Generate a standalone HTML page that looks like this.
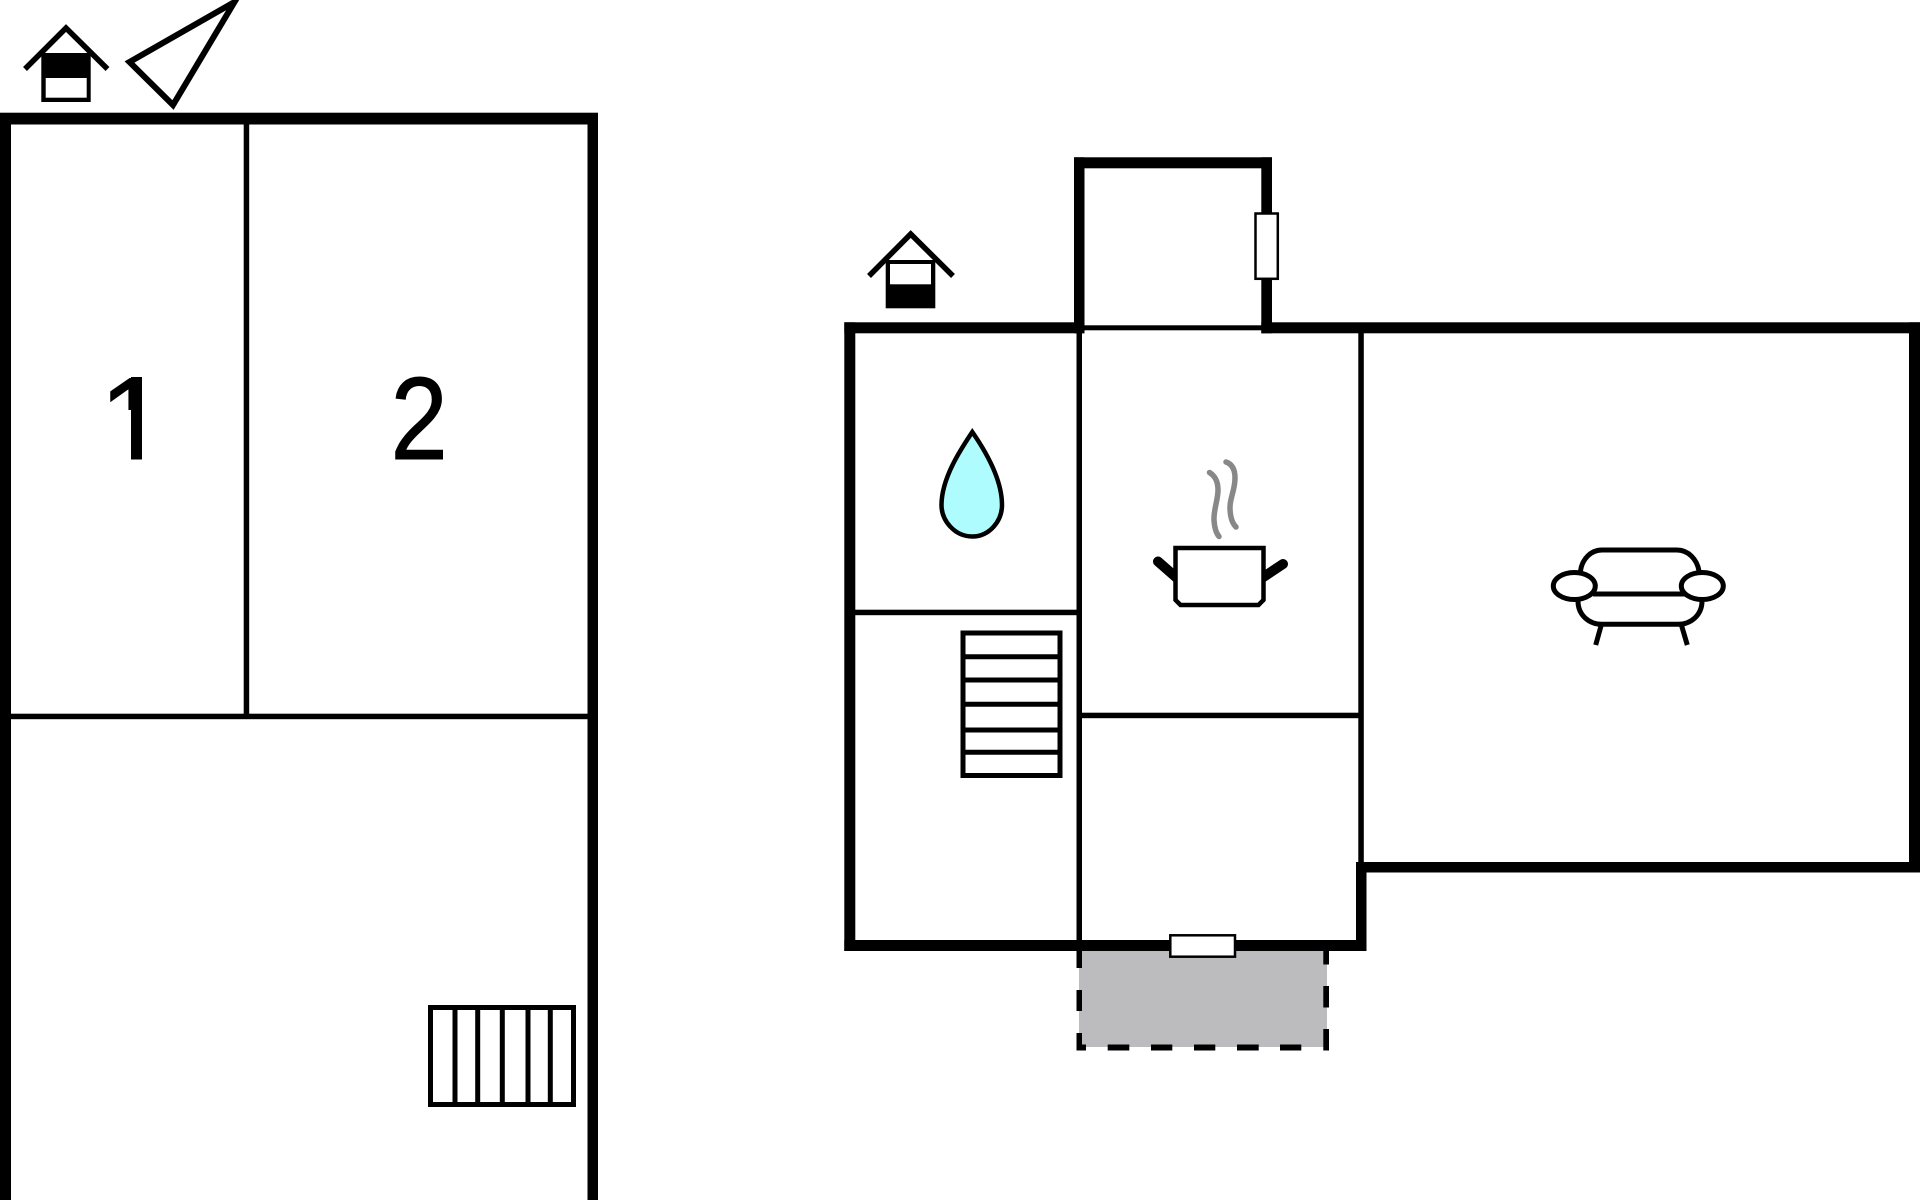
<!DOCTYPE html>
<html><head><meta charset="utf-8"><style>
html,body{margin:0;padding:0;background:#fff;width:1920px;height:1200px;overflow:hidden}
svg{display:block}
text{font-family:"Liberation Sans",sans-serif;font-size:117px;fill:#000;stroke:#000;stroke-width:1}
</style></head><body>
<svg width="1920" height="1200" viewBox="0 0 1920 1200" xmlns="http://www.w3.org/2000/svg">
<rect width="1920" height="1200" fill="#fff"/>
<!-- left plan -->
<rect x="0" y="112.700" width="598" height="11.800"/>
<rect x="0" y="113" width="11" height="1087"/>
<rect x="587.500" y="113" width="10.500" height="1087"/>
<rect x="243.700" y="124" width="5.500" height="592"/>
<rect x="10" y="713.700" width="578" height="5.500"/>
<text x="99.500" y="459">1</text>
<rect x="95" y="410" width="36" height="53" fill="#fff"/>
<rect x="142" y="370" width="26" height="93" fill="#fff"/>
<rect x="131" y="377" width="11" height="82"/>
<text transform="translate(390.500 459) scale(0.88 1)" x="0" y="0">2</text>
<!-- left house -->
<path d="M25 69 66 28 107.500 69" fill="none" stroke="#000" stroke-width="5.500"/>
<rect x="41.300" y="53" width="49.400" height="49"/>
<rect x="45.700" y="78" width="41" height="19.700" fill="#fff"/>
<!-- north triangle -->
<polygon points="129.500,62 173,105 234.500,2" fill="none" stroke="#000" stroke-width="6"/>
<!-- stairs 1 -->
<g fill="none" stroke="#000" stroke-width="5">
<rect x="430.500" y="1007.500" width="143" height="97"/>
<path d="M455 1007V1105M477.700 1007V1105M502.300 1007V1105M528 1007V1105M550.300 1007V1105"/>
</g>
<!-- right plan: gray terrace -->
<rect x="1079" y="951" width="248" height="96" fill="#bcbcbe"/>
<g>
<rect x="1076.500" y="951" width="5.500" height="17"/><rect x="1076.500" y="990" width="5.500" height="21"/><rect x="1076.500" y="1033" width="5.500" height="17.500"/>
<rect x="1323.300" y="951" width="5.700" height="13.500"/><rect x="1323.300" y="986" width="5.700" height="21.500"/><rect x="1323.300" y="1029" width="5.700" height="21.500"/>
<rect x="1076.500" y="1044.500" width="9.500" height="6"/>
<rect x="1107.700" y="1044.500" width="21.600" height="6"/><rect x="1151" y="1044.500" width="21.300" height="6"/><rect x="1194" y="1044.500" width="21.300" height="6"/><rect x="1237" y="1044.500" width="21.700" height="6"/><rect x="1280" y="1044.500" width="21.300" height="6"/>
</g>
<!-- thick walls -->
<rect x="844.300" y="322.300" width="240" height="11"/>
<rect x="844.300" y="322.300" width="11" height="628.700"/>
<rect x="844.300" y="940" width="521.700" height="11"/>
<rect x="1356" y="862" width="10.500" height="89"/>
<rect x="1356" y="862" width="564" height="10.500"/>
<rect x="1909" y="322.300" width="11" height="550"/>
<rect x="1261.300" y="322.300" width="658.700" height="11"/>
<rect x="1074" y="157.300" width="198" height="11"/>
<rect x="1074" y="157.300" width="10.500" height="176"/>
<rect x="1261.300" y="157.300" width="10.700" height="176"/>
<!-- thin walls -->
<rect x="1084" y="325.300" width="178" height="5"/>
<rect x="1076.500" y="333" width="5.500" height="618"/>
<rect x="855" y="609.700" width="223" height="5.500"/>
<rect x="1358.300" y="333" width="5.500" height="530"/>
<rect x="1079" y="712.700" width="281" height="5.500"/>
<!-- windows -->
<rect x="1255.500" y="213.500" width="22.300" height="65.300" fill="#fff" stroke="#000" stroke-width="2.500"/>
<rect x="1170.300" y="935.300" width="64.700" height="21.400" fill="#fff" stroke="#000" stroke-width="2.500"/>
<!-- right house -->
<path d="M869 276 910.700 234 953 276" fill="none" stroke="#000" stroke-width="5.500"/>
<rect x="885.700" y="260" width="49.600" height="48.300"/>
<rect x="890" y="264" width="41" height="20.300" fill="#fff"/>
<!-- drop -->
<path d="M972.300 432C963 446 941.500 477 941.500 505C941.500 521 955 536.500 972.300 536.500C989.500 536.500 1002 521 1002 505C1002 477 982 446 972.300 432Z" fill="#aefcfe" stroke="#000" stroke-width="4.500" stroke-linejoin="miter"/>
<!-- pot -->
<path d="M1158 561.500 1178 579M1283 564 1262 578" fill="none" stroke="#000" stroke-width="10" stroke-linecap="round"/>
<path d="M1175.500 548H1263.500V600L1258.500 605H1180.500L1175.500 600Z" fill="#fff" stroke="#000" stroke-width="4.500"/>
<path d="M1209.500 472.500C1215 476 1218 481 1218 490C1218 500 1213.500 510 1214 520C1214.500 528 1216 533 1219 536.500M1226 462C1232 464 1235 469 1235 478C1235 490 1230 498 1230 507C1230 516 1232 523 1236 527" fill="none" stroke="#888" stroke-width="5.500" stroke-linecap="round"/>
<!-- sofa -->
<g fill="none" stroke="#000" stroke-width="5">
<path d="M1580.500 571C1582 559 1591 550 1602 550H1677C1688 550 1697 559 1699 571"/>
<path d="M1593 594H1685"/>
<path d="M1578 601C1578 615 1589 624.300 1602 624.300H1678C1691 624.300 1702 615 1702 601"/>
<path d="M1601 626 1595.700 645M1681.700 626 1687.300 645"/>
<ellipse cx="1574.300" cy="586" rx="21" ry="13.500" fill="#fff"/>
<ellipse cx="1702.300" cy="586" rx="21" ry="13.500" fill="#fff"/>
</g>
<!-- stairs 2 -->
<g fill="none" stroke="#000" stroke-width="5">
<rect x="963" y="633" width="97" height="142.500"/>
<path d="M963 656.700H1060M963 680H1060M963 704.300H1060M963 730H1060M963 752.300H1060"/>
</g>
</svg>
</body></html>
